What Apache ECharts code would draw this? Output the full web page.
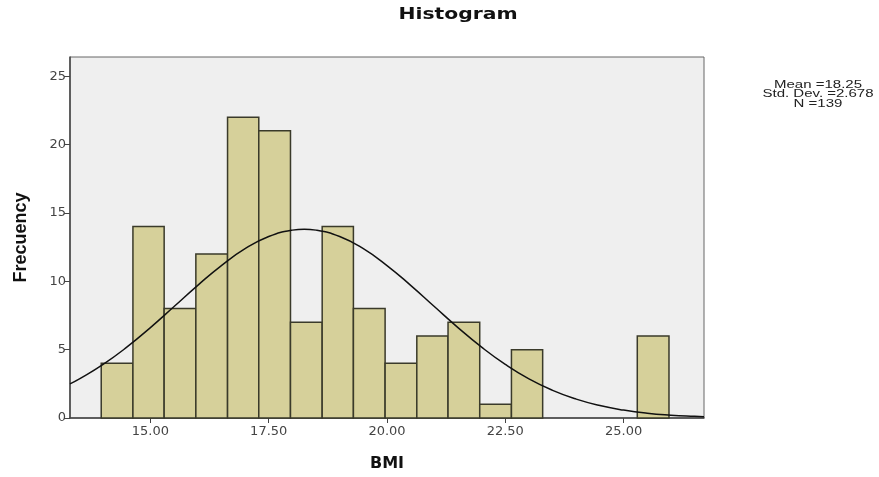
<!DOCTYPE html>
<html>
<head>
<meta charset="utf-8">
<script src="https://cdn.jsdelivr.net/npm/echarts@6/dist/echarts.min.js"></script>
<style>html,body{margin:0;padding:0;background:#fff;overflow:hidden;}#c{width:879px;height:477px;}</style>
</head>
<body>
<div id="c"></div>
<script>
const binStarts = [13.96,14.63,15.29,15.96,16.63,17.29,17.96,18.63,19.29,19.96,20.63,21.29,21.96,22.63,23.29,23.96,24.63,25.29];
const binEnds   = [14.63,15.29,15.96,16.63,17.29,17.96,18.63,19.29,19.96,20.63,21.29,21.96,22.63,23.29,23.96,24.63,25.29,25.96];
const counts    = [4,14,8,12,22,21,7,14,8,4,6,7,1,5,0,0,0,6];
const curveX = [13.3,13.5,14,14.5,15,15.5,16,16.5,17,17.5,18,18.25,18.5,19,19.5,20,20.5,21,21.5,22,22.5,23,23.5,24,24.5,25,25.5,26,26.5,26.7];
const curveY = [2.50,2.86,3.92,5.18,6.61,8.15,9.70,11.15,12.38,13.27,13.74,13.81,13.74,13.27,12.38,11.15,9.70,8.15,6.61,5.18,3.92,2.86,2.02,1.38,0.91,0.58,0.35,0.21,0.12,0.095];
const xTickLabels = [15,17.5,20,22.5,25];
const yTickLabels = [0,5,10,15,20,25];
const statsLines = ['Mean =18.25','Std. Dev. =2.678','N =139'];

const barData = counts.map((c,i)=>[binStarts[i],binEnds[i],c]).filter(d=>d[2]>0);
const curveData = curveX.map((x,i)=>[x,curveY[i]]);

const chart = echarts.init(document.getElementById('c'));
chart.setOption({
  animation:false,
  grid:{left:70,top:57,right:175,bottom:50,show:true,backgroundColor:'#efefef',borderColor:'#666',borderWidth:1},
  xAxis:{type:'value',min:13.3,max:26.7,
    name:'BMI',nameLocation:'middle',nameGap:38,
    nameTextStyle:{fontFamily:'DejaVu Sans',fontWeight:'bold',fontSize:16,color:'#111'},
    axisLine:{show:true,lineStyle:{color:'#444',width:1.5}},
    axisTick:{show:true,length:5,customValues:xTickLabels,lineStyle:{color:'#444'}},
    axisLabel:{customValues:xTickLabels,formatter:v=>v.toFixed(2),color:'#444',fontFamily:'DejaVu Sans',fontSize:13,margin:7},
    splitLine:{show:false}},
  yAxis:{type:'value',min:0,max:26.4,
    name:'Frecuency',nameLocation:'middle',nameGap:40,nameRotate:90,
    nameTextStyle:{fontFamily:'Liberation Sans Narrow, Liberation Sans, Arial',fontWeight:'bold',fontSize:18,color:'#111'},
    axisLine:{show:true,lineStyle:{color:'#444',width:1.5}},
    axisTick:{show:true,length:6,customValues:yTickLabels,lineStyle:{color:'#444'}},
    axisLabel:{customValues:yTickLabels,color:'#444',fontFamily:'DejaVu Sans',fontSize:13,margin:4},
    splitLine:{show:false}},
  graphic:[
    {type:'text',x:458,y:15,scaleX:1.27,
     style:{text:'Histogram',align:'center',verticalAlign:'middle',fill:'#111',font:'bold 16px "DejaVu Sans"'}}
  ].concat(statsLines.map((t,i)=>({type:'text',x:818,y:85+i*9.6,scaleX:1.5,
    style:{text:t,align:'center',verticalAlign:'middle',fill:'#222',font:'10px "Liberation Sans", Arial'}}))),
  series:[
    {type:'custom',
     renderItem:(params,api)=>{
       const p0 = api.coord([api.value(0),api.value(2)]);
       const p1 = api.coord([api.value(1),0]);
       return {type:'rect',shape:{x:p0[0],y:p0[1],width:p1[0]-p0[0],height:p1[1]-p0[1]},
         style:{fill:'#d6d09a',stroke:'#3a3a2a',lineWidth:1.5}};
     },
     encode:{x:[0,1],y:2},
     data:barData,z:2},
    {type:'line',data:curveData,smooth:true,showSymbol:false,
     lineStyle:{color:'#111',width:1.5},z:3}
  ]
});
</script>
</body>
</html>
